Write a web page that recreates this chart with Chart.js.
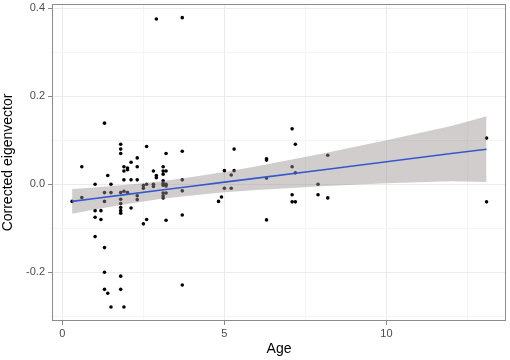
<!DOCTYPE html>
<html>
<head>
<meta charset="utf-8">
<script src="https://cdn.jsdelivr.net/npm/chart.js@4"></script>
<style>
  html, body { margin: 0; padding: 0; background: #fff; }
  #wrap { width: 510px; height: 360px; }
</style>
</head>
<body>
<div id="wrap"><canvas id="scatter-chart"></canvas></div>
<script>
// observed points
const ages = [
  0.30, 0.60, 0.60, 1.01, 1.01, 1.01, 1.01, 1.19, 1.19, 1.30,
  1.30, 1.30, 1.30, 1.30, 1.30, 1.40, 1.40, 1.50, 1.50, 1.50,
  1.80, 1.80, 1.80, 1.80, 1.80, 1.80, 1.80, 1.80, 1.80, 1.80,
  1.80, 1.90, 1.90, 1.90, 1.90, 1.90, 2.01, 2.01, 2.01, 2.12,
  2.12, 2.12, 2.31, 2.31, 2.31, 2.31, 2.31, 2.50, 2.50, 2.50,
  2.60, 2.60, 2.60, 2.81, 2.81, 2.81, 2.90, 2.90, 2.90, 3.11,
  3.11, 3.11, 3.11, 3.11, 3.11, 3.11, 3.11, 3.11, 3.20, 3.20,
  3.20, 3.20, 3.20, 3.20, 3.70, 3.70, 3.70, 3.70, 3.70, 3.70,
  4.82, 4.91, 5.00, 5.00, 5.21, 5.21, 5.30, 5.30, 6.30, 6.30,
  6.30, 6.30, 7.09, 7.09, 7.09, 7.09, 7.19, 7.19, 7.19, 7.89,
  7.89, 8.19, 8.19, 13.09, 13.09
];
const eigen = [
  -0.039, 0.040, -0.030, 0.000, -0.060, -0.075, -0.119, -0.060, -0.080, 0.139,
  -0.019, -0.039, -0.144, -0.200, -0.239, -0.248, 0.020, 0.000, -0.019, -0.279,
  0.091, 0.080, 0.070, -0.019, -0.034, -0.044, -0.053, -0.060, -0.066, -0.209,
  -0.239, 0.040, 0.030, 0.010, -0.016, -0.279, 0.037, 0.033, -0.019, 0.050,
  0.010, -0.054, 0.060, 0.040, 0.010, -0.026, -0.035, -0.003, -0.009, -0.090,
  0.086, 0.000, -0.080, 0.030, 0.000, -0.005, 0.376, 0.020, 0.015, 0.040,
  0.030, 0.023, 0.008, 0.002, -0.002, -0.020, -0.026, -0.031, 0.070, 0.030,
  0.000, -0.004, -0.020, -0.082, 0.379, 0.075, 0.010, -0.015, -0.070, -0.229,
  -0.039, -0.029, 0.031, -0.009, 0.021, -0.009, 0.080, 0.031, 0.058, 0.055,
  0.014, -0.081, 0.126, 0.040, -0.024, -0.040, 0.091, 0.026, -0.040, 0.000,
  -0.024, 0.066, -0.031, 0.105, -0.040
];

// fitted line with its confidence band
const fitAge = [0.30, 1, 2, 3, 4, 5, 6, 8, 10, 12, 13.09];
const fitValue = [-0.039, -0.0325, -0.023, -0.0138, -0.0045, 0.0048, 0.014, 0.0326, 0.0512, 0.0698, 0.0797];
const bandUpper = [-0.011, -0.0075, -0.001, 0.0062, 0.0165, 0.0278, 0.041, 0.0696, 0.1002, 0.1328, 0.1547];
const bandLower = [-0.067, -0.0575, -0.045, -0.0338, -0.0255, -0.0182, -0.013, -0.0044, 0.0022, 0.0068, 0.0050];

const xTicks = [0, 2.5, 5, 7.5, 10, 12.5];
const xLabels = [0, 5, 10];
const yTicks = [-0.3, -0.2, -0.1, 0.0, 0.1, 0.2, 0.3, 0.4];
const yLabels = [-0.2, 0.0, 0.2, 0.4];

const isMajor = (v, list) => list.some((m) => Math.abs(m - v) < 1e-6);

const toXY = (xs, ys) => xs.map((x, i) => ({ x: x, y: ys[i] }));

const panelBorder = {
  id: "panelBorder",
  afterDraw(chart) {
    const { ctx, chartArea: a } = chart;
    ctx.save();
    ctx.strokeStyle = "#8c8c8c";
    ctx.lineWidth = 1;
    ctx.strokeRect(a.left + 0.5, a.top + 0.5, a.right - a.left - 1, a.bottom - a.top - 1);
    ctx.restore();
  },
};

const tickFont = { family: "'Liberation Sans', Arial, sans-serif", size: 11 };
const titleFont = { family: "'Liberation Sans', Arial, sans-serif", size: 14 };

new Chart(document.getElementById("scatter-chart").getContext("2d"), {
  type: "scatter",
  data: {
    datasets: [
      {
        type: "line",
        data: toXY(fitAge, fitValue),
        borderColor: "#3559cc",
        borderWidth: 1.6,
        pointRadius: 0,
        fill: false,
        order: 0,
      },
      {
        type: "line",
        data: toXY(fitAge, bandUpper),
        borderWidth: 0,
        borderColor: "rgba(0,0,0,0)",
        backgroundColor: "rgba(153,145,145,0.45)",
        pointRadius: 0,
        fill: "+1",
        order: 1,
      },
      {
        type: "line",
        data: toXY(fitAge, bandLower),
        borderWidth: 0,
        borderColor: "rgba(0,0,0,0)",
        pointRadius: 0,
        fill: false,
        order: 1,
      },
      {
        data: toXY(ages, eigen),
        backgroundColor: "#000",
        borderColor: "#000",
        borderWidth: 0,
        pointRadius: 1.8,
        order: 2,
      },
    ],
  },
  options: {
    responsive: true,
    maintainAspectRatio: false,
    animation: false,
    layout: { padding: { left: 0, right: 4, top: 2, bottom: 2 } },
    plugins: {
      legend: { display: false },
      tooltip: { enabled: false },
    },
    scales: {
      x: {
        type: "linear",
        min: -0.32,
        max: 13.69,
        afterBuildTicks: (axis) => { axis.ticks = xTicks.map((v) => ({ value: v })); },
        afterFit: (axis) => {
          axis.height = 37;
          axis.paddingLeft = 0;
          axis.paddingRight = 0;
        },
        border: { display: false },
        grid: {
          color: (c) => (isMajor(c.tick.value, xLabels) ? "#ebebeb" : "#f4f4f4"),
          tickColor: (c) => (isMajor(c.tick.value, xLabels) ? "#888" : "rgba(0,0,0,0)"),
          tickLength: 4,
        },
        ticks: {
          color: "#4d4d4d",
          font: tickFont,
          padding: 2,
          maxRotation: 0,
          callback: (v) => (isMajor(v, xLabels) ? String(v) : ""),
        },
        title: { display: true, text: "Age", color: "#000", font: titleFont, padding: 0 },
      },
      y: {
        type: "linear",
        min: -0.311,
        max: 0.41,
        afterBuildTicks: (axis) => { axis.ticks = yTicks.map((v) => ({ value: v })); },
        afterFit: (axis) => {
          axis.width = 52;
          axis.paddingTop = 0;
          axis.paddingBottom = 0;
        },
        border: { display: false },
        grid: {
          color: (c) => (isMajor(c.tick.value, yLabels) ? "#ebebeb" : "#f4f4f4"),
          tickColor: (c) => (isMajor(c.tick.value, yLabels) ? "#888" : "rgba(0,0,0,0)"),
          tickLength: 4,
        },
        ticks: {
          color: "#4d4d4d",
          font: tickFont,
          padding: 3,
          callback: (v) => (isMajor(v, yLabels) ? Number(v).toFixed(1) : ""),
        },
        title: { display: true, text: "Corrected eigenvector", color: "#000", font: titleFont, padding: 0 },
      },
    },
  },
  plugins: [panelBorder],
});
</script>
</body>
</html>
